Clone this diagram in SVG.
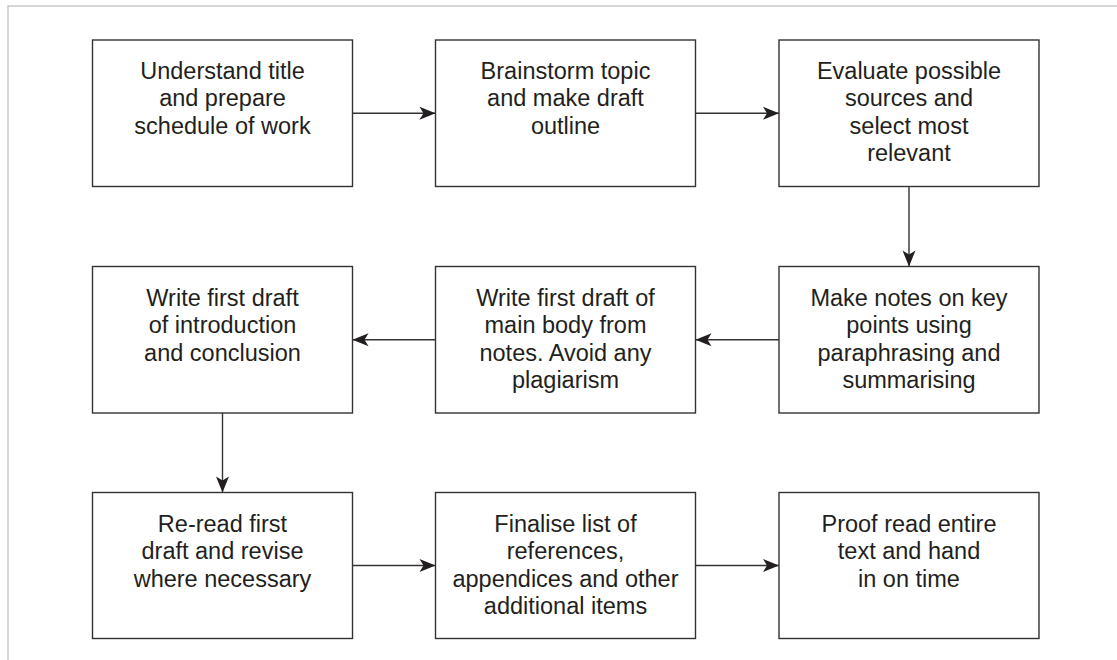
<svg xmlns="http://www.w3.org/2000/svg" width="1117" height="660" viewBox="0 0 1117 660">
<style>
.box{fill:#fff;stroke:#333;stroke-width:1.4}
.t{font-family:"Liberation Sans",Arial,sans-serif;font-size:23.5px;fill:#231f20;text-anchor:middle}
.c{stroke:#333;stroke-width:1.4;fill:none}
.frame{stroke:#c9c9ce;stroke-width:1.5;fill:none}
</style>
<defs>
<marker id="ah" markerUnits="userSpaceOnUse" markerWidth="20" markerHeight="16" viewBox="-17 -8 18 16" refX="0" refY="0" orient="auto">
<path d="M0,0 L-16,-6.5 L-12,0 L-16,6.5 Z" fill="#231f20"/>
</marker>
</defs>
<rect width="1117" height="660" fill="#fff"/>
<path class="frame" d="M8,660 V6 H1117"/>
<g id="connectors">
<line class="c" x1="352.5" y1="113.3" x2="435.5" y2="113.3" marker-end="url(#ah)"/>
<line class="c" x1="695.5" y1="113.3" x2="779" y2="113.3" marker-end="url(#ah)"/>
<line class="c" x1="909" y1="186.5" x2="909" y2="266.5" marker-end="url(#ah)"/>
<line class="c" x1="779" y1="339.7" x2="695.5" y2="339.7" marker-end="url(#ah)"/>
<line class="c" x1="435.5" y1="339.7" x2="352.5" y2="339.7" marker-end="url(#ah)"/>
<line class="c" x1="222.5" y1="413" x2="222.5" y2="492.5" marker-end="url(#ah)"/>
<line class="c" x1="352.5" y1="565.5" x2="435.5" y2="565.5" marker-end="url(#ah)"/>
<line class="c" x1="695.5" y1="565.5" x2="779" y2="565.5" marker-end="url(#ah)"/>
</g>
<g id="n1">
<rect class="box" x="92.5" y="40" width="260" height="146.5"/>
<text class="t" x="222.5" y="79">Understand title</text>
<text class="t" x="222.5" y="106.3">and prepare</text>
<text class="t" x="222.5" y="133.6">schedule of work</text>
</g>
<g id="n2">
<rect class="box" x="435.5" y="40" width="260" height="146.5"/>
<text class="t" x="565.5" y="79">Brainstorm topic</text>
<text class="t" x="565.5" y="106.3">and make draft</text>
<text class="t" x="565.5" y="133.6">outline</text>
</g>
<g id="n3">
<rect class="box" x="779" y="40" width="260" height="146.5"/>
<text class="t" x="909" y="79">Evaluate possible</text>
<text class="t" x="909" y="106.3">sources and</text>
<text class="t" x="909" y="133.6">select most</text>
<text class="t" x="909" y="160.9">relevant</text>
</g>
<g id="n4">
<rect class="box" x="92.5" y="266.5" width="260" height="146.5"/>
<text class="t" x="222.5" y="306">Write first draft</text>
<text class="t" x="222.5" y="333.3">of introduction</text>
<text class="t" x="222.5" y="360.6">and conclusion</text>
</g>
<g id="n5">
<rect class="box" x="435.5" y="266.5" width="260" height="146.5"/>
<text class="t" x="565.5" y="306">Write first draft of</text>
<text class="t" x="565.5" y="333.3">main body from</text>
<text class="t" x="565.5" y="360.6">notes. Avoid any</text>
<text class="t" x="565.5" y="387.9">plagiarism</text>
</g>
<g id="n6">
<rect class="box" x="779" y="266.5" width="260" height="146.5"/>
<text class="t" x="909" y="306">Make notes on key</text>
<text class="t" x="909" y="333.3">points using</text>
<text class="t" x="909" y="360.6">paraphrasing and</text>
<text class="t" x="909" y="387.9">summarising</text>
</g>
<g id="n7">
<rect class="box" x="92.5" y="492.5" width="260" height="146"/>
<text class="t" x="222.5" y="532">Re-read first</text>
<text class="t" x="222.5" y="559.3">draft and revise</text>
<text class="t" x="222.5" y="586.6">where necessary</text>
</g>
<g id="n8">
<rect class="box" x="435.5" y="492.5" width="260" height="146"/>
<text class="t" x="565.5" y="532">Finalise list of</text>
<text class="t" x="565.5" y="559.3">references,</text>
<text class="t" x="565.5" y="586.6">appendices and other</text>
<text class="t" x="565.5" y="613.9">additional items</text>
</g>
<g id="n9">
<rect class="box" x="779" y="492.5" width="260" height="146"/>
<text class="t" x="909" y="532">Proof read entire</text>
<text class="t" x="909" y="559.3">text and hand</text>
<text class="t" x="909" y="586.6">in on time</text>
</g>
</svg>
